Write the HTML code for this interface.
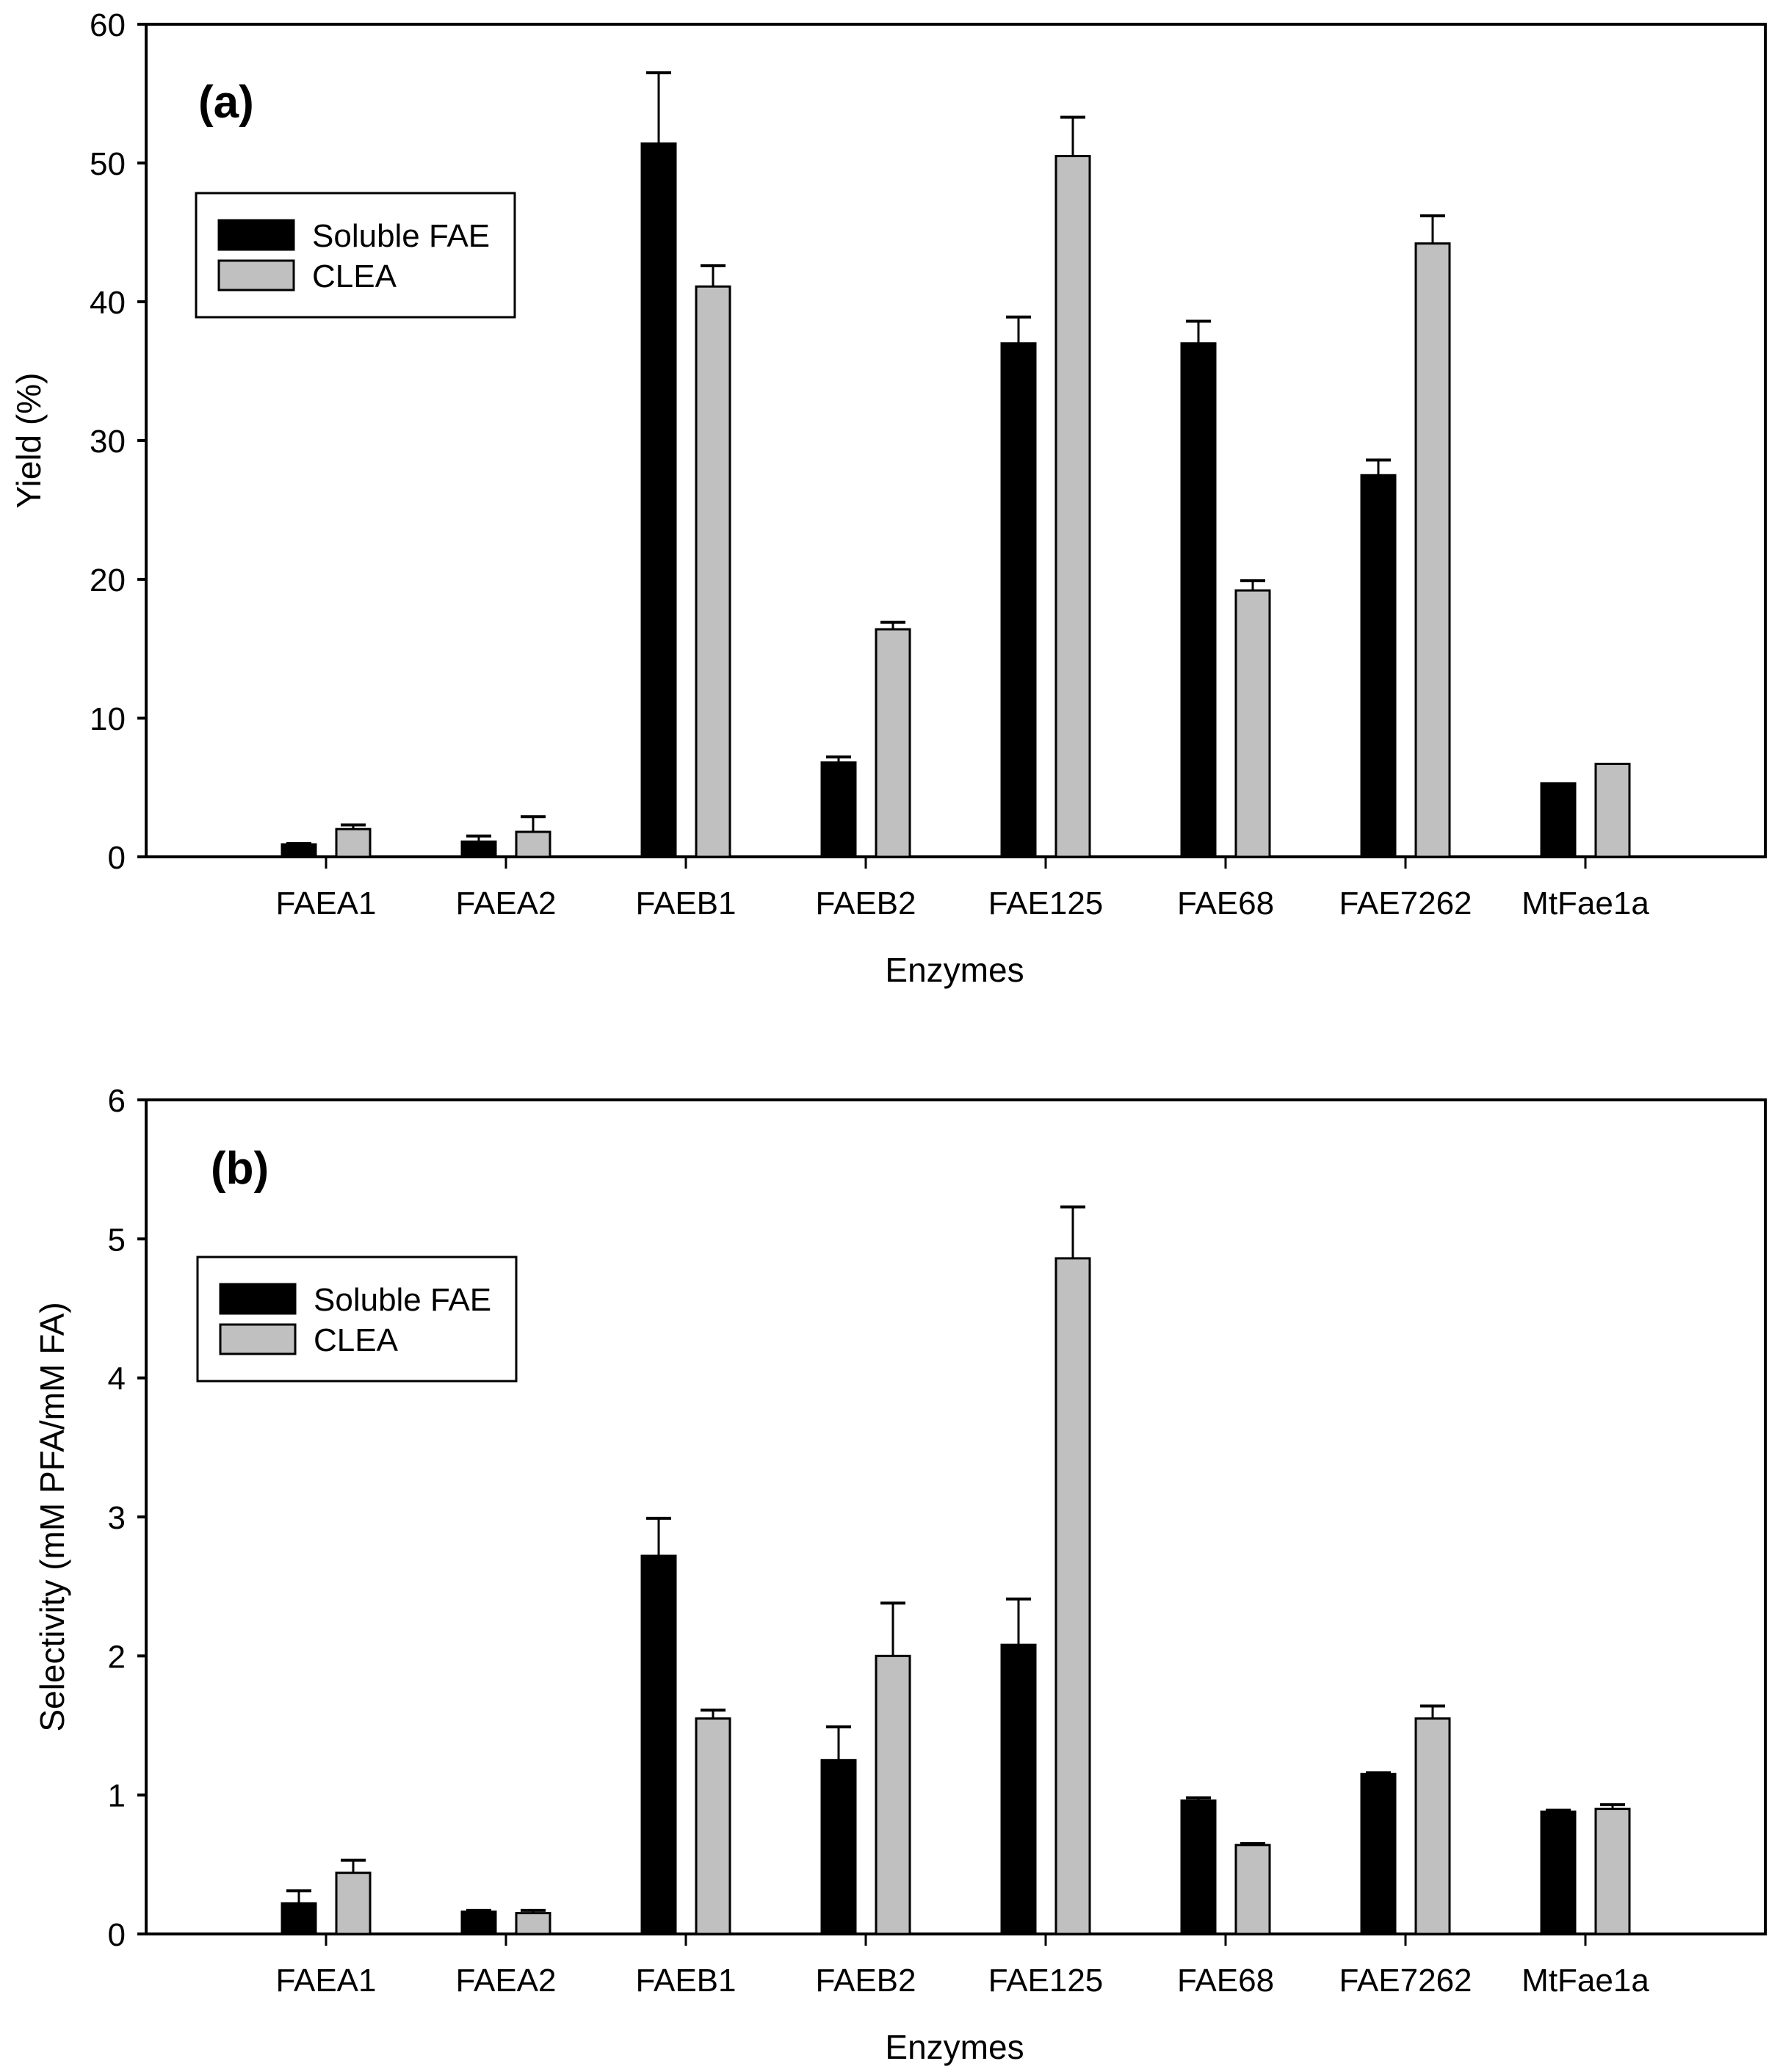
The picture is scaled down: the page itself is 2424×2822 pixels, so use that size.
<!DOCTYPE html>
<html><head><meta charset="utf-8"><style>
html,body{margin:0;padding:0;background:#fff}
svg{display:block;font-family:"Liberation Sans",Arial,sans-serif}
</style></head><body>
<svg id="chart" width="2424" height="2822" viewBox="0 0 2424 2822" xmlns="http://www.w3.org/2000/svg"></svg>
<script>
const categories=["FAEA1","FAEA2","FAEB1","FAEB2","FAE125","FAE68","FAE7262","MtFae1a"];
const yieldSoluble=[0.9,1.1,51.4,6.8,37.0,37.0,27.5,5.3];
const yieldSolubleErr=[0.05,0.4,5.1,0.4,1.9,1.6,1.1,0];
const yieldClea=[2.0,1.8,41.1,16.4,50.5,19.2,44.2,6.7];
const yieldCleaErr=[0.3,1.1,1.5,0.5,2.8,0.7,2.0,0];
const selSoluble=[0.22,0.16,2.72,1.25,2.08,0.96,1.15,0.88];
const selSolubleErr=[0.09,0.01,0.27,0.24,0.33,0.02,0.01,0.01];
const selClea=[0.44,0.15,1.55,2.00,4.86,0.64,1.55,0.90];
const selCleaErr=[0.09,0.02,0.06,0.38,0.37,0.01,0.09,0.03];
const yieldTicks=[0,10,20,30,40,50,60];
const selTicks=[0,1,2,3,4,5,6];

const svg=document.getElementById('chart');
const NS="http://www.w3.org/2000/svg";
function mk(tag,attrs,parent){const e=document.createElementNS(NS,tag);for(const k in attrs)e.setAttribute(k,attrs[k]);(parent||svg).appendChild(e);return e;}

function panel(cfg){
  const g=mk('g',{});
  
  
  const L=199,R=2404,top=cfg.top,bot=cfg.bot,max=cfg.max;
  const step=(R-L)/9;
  const xc=i=>L+(i+1)*step;
  const y=v=>bot-(v/max)*(bot-top);
  const frame=mk('rect',{x:L,y:top,width:R-L,height:bot-top,fill:'none',stroke:'#000','stroke-width':4},g);
  
  
  cfg.ticks.forEach(t=>{
    const tk=mk('line',{x1:L-12,x2:L,y1:y(t),y2:y(t),stroke:'#000','stroke-width':4},g);
    
    
    const tl=mk('text',{x:L-28,y:y(t)+16,'text-anchor':'end','font-size':44},g);
    
    
    tl.textContent=t;
  });
  categories.forEach((c,i)=>{
    const tk=mk('line',{x1:xc(i),x2:xc(i),y1:bot,y2:bot+16,stroke:'#000','stroke-width':3},g);
    
    
    const tl=mk('text',{x:xc(i),y:bot+78,'text-anchor':'middle','font-size':44},g);
    
    
    tl.textContent=c;
    const series=[[cfg.s1,cfg.e1,'#000',-1,'bar-soluble'],[cfg.s2,cfg.e2,'#c0c0c0',1,'bar-clea']];
    series.forEach(([vals,errs,fill,side,nm])=>{
      const bw=46;
      const x0=side<0?xc(i)-14-bw:xc(i)+14;
      const yt=y(vals[i]);
      const b=mk('rect',{x:x0,y:yt,width:bw,height:bot-yt,fill:fill,stroke:'#000','stroke-width':3},g);
      
      
      if(errs[i]>0){
        const ye=y(vals[i]+errs[i]);
        const cx=x0+bw/2;
        const st=mk('line',{x1:cx,x2:cx,y1:yt,y2:ye,stroke:'#000','stroke-width':3},g);
        
        
        const cp=mk('line',{x1:cx-17,x2:cx+17,y1:ye,y2:ye,stroke:'#000','stroke-width':4},g);
        
        
      }
    });
  });
  const xt=mk('text',{x:1300,y:bot+170,'text-anchor':'middle','font-size':46},g);
  
  
  xt.textContent='Enzymes';
  const yt=mk('text',{x:0,y:0,'text-anchor':'middle','font-size':46,transform:`translate(${cfg.ytx},${(top+bot)/2}) rotate(-90)`},g);
  
  
  yt.textContent=cfg.ytitle;
  const pl=mk('text',{x:cfg.plx,y:cfg.ply,'font-size':62,'font-weight':'bold'},g);
  
  
  pl.textContent=cfg.plabel;
  const lg=mk('g',{},g);
  
  
  const lx=cfg.lx,ly=cfg.ly;
  mk('rect',{x:lx,y:ly,width:434,height:169,fill:'#fff',stroke:'#000','stroke-width':3},lg);
  const s1=mk('rect',{x:lx+31,y:ly+37,width:102,height:40,fill:'#000',stroke:'#000','stroke-width':3},lg);
  
  
  const s2=mk('rect',{x:lx+31,y:ly+92,width:102,height:40,fill:'#c0c0c0',stroke:'#000','stroke-width':3},lg);
  
  
  const t1=mk('text',{x:lx+158,y:ly+73,'font-size':44},lg);
  
  
  t1.textContent='Soluble FAE';
  const t2=mk('text',{x:lx+158,y:ly+128,'font-size':44},lg);
  
  
  t2.textContent='CLEA';
}
panel({name:'panel-a-yield',top:33,bot:1167,max:60,ticks:yieldTicks,s1:yieldSoluble,e1:yieldSolubleErr,s2:yieldClea,e2:yieldCleaErr,ytitle:'Yield (%)',ytx:55,plabel:'(a)',plx:270,ply:160,lx:267,ly:263});
panel({name:'panel-b-selectivity',top:1498,bot:2634,max:6,ticks:selTicks,s1:selSoluble,e1:selSolubleErr,s2:selClea,e2:selCleaErr,ytitle:'Selectivity (mM PFA/mM FA)',ytx:87,plabel:'(b)',plx:287,ply:1612,lx:269,ly:1712});
</script>
</body></html>
